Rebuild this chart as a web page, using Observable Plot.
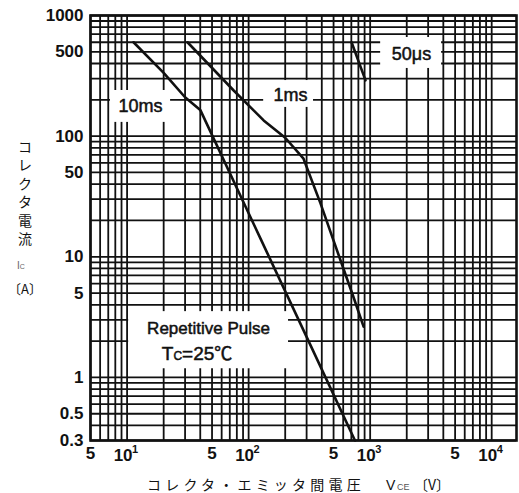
<!DOCTYPE html>
<html>
<head>
<meta charset="utf-8">
<script src="https://cdn.jsdelivr.net/npm/d3@7"></script>
<script src="https://cdn.jsdelivr.net/npm/@observablehq/plot@0.6"></script>
<style>
  html, body { margin: 0; padding: 0; background: #fff; }
  svg { display: block; }
</style>
</head>
<body>
<div id="chart"></div>
<script>
// ---- Data ----
const seriesNames = ["10ms", "1ms", "50μs"];
const vce10ms = [11.3, 20, 30, 40, 125, 300, 750];
const ic10ms  = [600, 335, 210, 165, 14.2, 2.17, 0.3];
const vce1ms  = [31.4, 75, 133, 200, 283, 391, 500, 731, 883];
const ic1ms   = [600, 240, 135, 97, 65, 27.6, 13.6, 4.6, 2.64];
const vce50us = [703, 916];
const ic50us  = [600, 290];

const xTicks    = [5, 10, 50, 100, 500, 1000, 5000, 10000];
const xTickBase = ["5", "10", "5", "10", "5", "10", "5", "10"];
const xTickExp  = ["", "1", "", "2", "", "3", "", "4"];
const yTicks      = [0.3, 0.5, 1, 5, 10, 50, 100, 500, 1000];
const yTickLabels = ["0.3", "0.5", "1", "5", "10", "50", "100", "500", "1000"];

const gridMultipliers = [1, 2, 3, 4, 5, 6, 7, 8, 9];
const xDecades = [1, 10, 100, 1000, 10000];
const yDecades = [0.1, 1, 10, 100, 1000];

// ---- Derived tables ----
const xDomain = [5, 16000];
const yDomain = [0.3, 1000];
const gridX = xDecades.flatMap(d => gridMultipliers.map(m => +(m * d).toPrecision(6)))
  .filter(v => v >= xDomain[0] - 1e-9 && v <= xDomain[1]);
const gridY = yDecades.flatMap(d => gridMultipliers.map(m => +(m * d).toPrecision(6)))
  .filter(v => v >= yDomain[0] - 1e-9 && v <= yDomain[1] + 1e-9);

const curves = [
  ...vce10ms.map((v, i) => ({name: seriesNames[0], V: v, I: ic10ms[i]})),
  ...vce1ms.map((v, i) => ({name: seriesNames[1], V: v, I: ic1ms[i]})),
  ...vce50us.map((v, i) => ({name: seriesNames[2], V: v, I: ic50us[i]}))
];

const xTickTable = xTicks.map((v, i) => ({v, base: xTickBase[i], exp: xTickExp[i]}));
const yTickTable = yTicks.map((v, i) => ({v, label: yTickLabels[i]}));

// label backgrounds (white boxes that interrupt the grid), in data units
const boxes = [
  {x1: 7.3, x2: 22.8, y1: 130, y2: 239},
  {x1: 133, x2: 342, y1: 173, y2: 289},
  {x1: 1220, x2: 3870, y1: 364, y2: 657},
  {x1: 10.3, x2: 213, y1: 1.18, y2: 3.51}
];
const curveLabels = [
  {x: 12.9, y: 176, text: "10ms"},
  {x: 221, y: 217, text: "1ms"},
  {x: 2190, y: 475, text: "50μs"}
];

const FONT = "'Liberation Sans', Arial, sans-serif";
const JFONT = "'Noto Sans CJK JP', 'Noto Sans', sans-serif";

const chart = Plot.plot({
  width: 519,
  height: 493,
  marginLeft: 90,
  marginRight: 3,
  marginTop: 15,
  marginBottom: 53,
  style: {background: "#fff", fontFamily: FONT},
  x: {type: "log", domain: xDomain, axis: null},
  y: {type: "log", domain: yDomain, axis: null},
  marks: [
    Plot.ruleX(gridX, {x: d => d, stroke: "#111", strokeWidth: 1.8}),
    Plot.ruleY(gridY, {y: d => d, stroke: "#111", strokeWidth: 1.8}),
    Plot.rect(boxes, {x1: "x1", x2: "x2", y1: "y1", y2: "y2", fill: "white"}),
    Plot.frame({stroke: "#111", strokeWidth: 2.6}),
    Plot.line(curves, {x: "V", y: "I", z: "name", stroke: "#111", strokeWidth: 2.6}),
    Plot.text(curveLabels, {x: "x", y: "y", text: "text", fontSize: 18, fill: "#111",
      stroke: "#111", strokeWidth: 0.5, fontFamily: FONT, letterSpacing: 1}),
    Plot.text(["Repetitive Pulse"], {x: () => 46.8, y: () => 2.54, text: d => d, fontSize: 17,
      fill: "#111", stroke: "#111", strokeWidth: 0.5, fontFamily: FONT, letterSpacing: 0.5}),
    // y tick labels
    Plot.text(yTickTable, {y: "v", text: "label", frameAnchor: "left", dx: -7, textAnchor: "end",
      fontSize: 17, fontWeight: "bold", fill: "#111", fontFamily: FONT}),
    // x tick labels
    Plot.text(xTickTable.filter(d => !d.exp), {x: "v", text: "base", frameAnchor: "bottom",
      lineAnchor: "bottom", dy: 18, fontSize: 17, fontWeight: "bold", fill: "#111", fontFamily: FONT}),
    Plot.text(xTickTable.filter(d => d.exp), {x: "v", text: "base", frameAnchor: "bottom",
      lineAnchor: "bottom", dy: 20, dx: -4, fontSize: 17, fontWeight: "bold", fill: "#111", fontFamily: FONT}),
    Plot.text(xTickTable.filter(d => d.exp), {x: "v", text: "exp", frameAnchor: "bottom",
      lineAnchor: "bottom", dy: 12, dx: 5, textAnchor: "start", fontSize: 11, fontWeight: "bold",
      fill: "#111", fontFamily: FONT})
  ]
});

document.getElementById("chart").appendChild(chart);

// ---- Text with sub/superscripts, placed through the Plot scales ----
const svg = d3.select(chart);
const sx = chart.scale("x"), sy = chart.scale("y");

const tc = svg.append("text")
  .attr("x", sx.apply(38)).attr("y", sy.apply(1.57)).attr("dy", "0.36em")
  .attr("text-anchor", "middle").attr("font-family", FONT).attr("font-size", 19)
  .attr("fill", "#111").attr("stroke", "#111").attr("stroke-width", 0.5);
tc.append("tspan").text("T");
tc.append("tspan").attr("font-size", 12).text("C");
tc.append("tspan").text("=25");
tc.append("tspan").attr("font-family", JFONT).attr("font-size", 18).text("℃");

// x axis title
const xt = svg.append("text").attr("y", 490).attr("text-anchor", "start").attr("fill", "#111")
  .attr("font-family", JFONT).attr("font-size", 14);
xt.append("tspan").attr("x", 147).attr("letter-spacing", 4.2).text("コレクタ・エミッタ間電圧");
xt.append("tspan").attr("x", 386).attr("font-family", FONT).attr("font-size", 14).text("V");
xt.append("tspan").attr("x", 397).attr("font-family", FONT).attr("font-size", 9).attr("fill", "#555").text("CE");
xt.append("tspan").attr("x", 414).attr("font-size", 14).text("〔V〕");

// y axis title (vertical)
const yt = svg.append("text").attr("font-family", JFONT).attr("font-size", 14).attr("fill", "#111")
  .attr("text-anchor", "middle");
Array.from("コレクタ電流").forEach((ch, i) => {
  yt.append("tspan").attr("x", 25).attr("y", 152 + i * 18.4).text(ch);
});
const ic = svg.append("text").attr("x", 21).attr("y", 269).attr("text-anchor", "middle")
  .attr("font-family", FONT).attr("font-size", 10).attr("fill", "#666");
ic.append("tspan").text("I");
ic.append("tspan").attr("font-size", 7).text("C");
svg.append("text").attr("x", 25).attr("y", 294).attr("text-anchor", "middle")
  .attr("font-family", JFONT).attr("font-size", 13).attr("fill", "#111").text("〔A〕");
</script>
</body>
</html>
